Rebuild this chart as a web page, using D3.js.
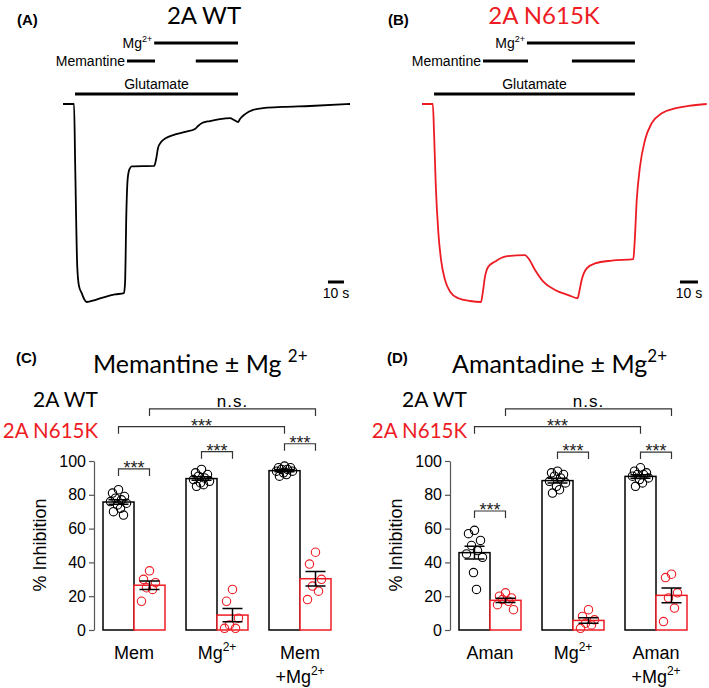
<!DOCTYPE html>
<html>
<head>
<meta charset="utf-8">
<script src="https://cdn.jsdelivr.net/npm/d3@7"></script>
<style>
  body { margin: 0; background: #fff; }
  svg { display: block; }
  text { font-family: "Liberation Sans", Arial, sans-serif; fill: #000; }
  .cal { font-family: Lato, "Open Sans", sans-serif; }
</style>
</head>
<body>
<svg id="fig" width="709" height="688"></svg>
<script>
// ---- traces: time (s) and current as fraction of peak inward current ----
var timeA = [0, 6.9, 7.6, 8.9, 10, 11.7, 13.2, 14.8, 20, 26, 32.5, 38.1, 38.8, 39.6, 40.4, 41.5, 43, 57, 58.1, 59.4, 61.3, 64.4, 68.8, 76.3, 82.5, 84.4, 86.9, 91.9, 98.1, 104.4, 106.9, 109.4, 110.6, 113.8, 118.8, 126.3, 137.5, 154.4, 179.4];
var currA = [0, 0, 0.3, 0.82, 0.92, 0.955, 0.985, 1, 0.99, 0.975, 0.962, 0.955, 0.9, 0.55, 0.38, 0.33, 0.315, 0.313, 0.283, 0.222, 0.192, 0.172, 0.157, 0.141, 0.126, 0.111, 0.096, 0.086, 0.076, 0.071, 0.081, 0.091, 0.076, 0.051, 0.03, 0.02, 0.015, 0.01, 0];
var timeB = [0, 6, 6.7, 7.6, 9.1, 10.6, 12.8, 15.6, 20.2, 26.7, 32.8, 33.7, 35, 36.8, 40.6, 46.1, 57.2, 59.1, 62.8, 67.4, 73.9, 81.3, 86.5, 87.2, 88.7, 91.5, 96.1, 105.4, 117.4, 118, 119.3, 121.1, 123.9, 127.6, 133.2, 140.6, 148, 158.2];
var currB = [0, 0, 0.146, 0.399, 0.652, 0.788, 0.889, 0.948, 0.981, 0.995, 1, 0.956, 0.872, 0.822, 0.796, 0.771, 0.763, 0.779, 0.838, 0.897, 0.939, 0.965, 0.981, 0.956, 0.889, 0.83, 0.805, 0.791, 0.784, 0.72, 0.485, 0.317, 0.182, 0.097, 0.047, 0.022, 0.01, 0];

// drug application periods (s)
var glutA = [7.5, 109.4], mgA = [57, 109.4], memA = [[40, 57.5], [83, 109.4]];
var glutB = [6.7, 118.3], mgB = [58.3, 118.3], memB = [[33.9, 58.9], [83.3, 118.3]];

// ---- % inhibition, individual cells ----
var catsC = ["Mem", "Mg", "MemMg"];
var wtC  = [[83, 81, 79, 78, 77, 76, 75, 74, 72, 70, 68],
            [95, 93, 92, 91, 90, 89, 88, 87, 86, 85],
            [97, 96, 96, 95, 95, 94, 94, 93, 92, 91]];
var mutC = [[35, 30, 28, 25, 24, 17],
            [24, 17, 7, 3, 1, 1],
            [46, 39, 30, 26, 23, 18]];
var catsD = ["Aman", "Mg", "AmanMg"];
var wtD  = [[59, 57, 53, 50, 47, 45, 43, 34, 24],
            [94, 93, 92, 91, 90, 88, 87, 85, 83, 81],
            [96, 94, 93, 92, 92, 91, 90, 89, 87, 85]];
var mutD = [[22, 20, 19, 18, 17, 15, 12],
            [12, 8, 6, 4, 3, 1],
            [33, 31, 22, 19, 13, 5]];
var tickVals = [0, 20, 40, 60, 80, 100];
var labelsC = [[["Mem", ""]], [["Mg", "2+"]], [["Mem", ""], ["+Mg", "2+"]]];
var labelsD = [[["Aman", ""]], [["Mg", "2+"]], [["Aman", ""], ["+Mg", "2+"]]];

// significance: [group, series] -> [group, series], level in % units
var sigC = [
  {a: [0, 0], b: [0, 1], lvl: 95.3, txt: "***"},
  {a: [1, 0], b: [1, 1], lvl: 105.5, txt: "***"},
  {a: [2, 0], b: [2, 1], lvl: 110.2, txt: "***"},
  {a: [0, 0], b: [2, 0], lvl: 120.3, txt: "***"},
  {a: [0, 1], b: [2, 1], lvl: 130.8, txt: "n.s."}
];
var sigD = [
  {a: [0, 0], b: [0, 1], lvl: 70.4, txt: "***"},
  {a: [1, 0], b: [1, 1], lvl: 105.3, txt: "***"},
  {a: [2, 0], b: [2, 1], lvl: 105.3, txt: "***"},
  {a: [0, 0], b: [2, 0], lvl: 120.3, txt: "***"},
  {a: [0, 1], b: [2, 1], lvl: 130.8, txt: "n.s."}
];

var red = "#ed1c24";
var svg = d3.select("#fig");

function supText(sel, base, sup, supSize, rise) {
  sel.append("tspan").text(base);
  if (sup) {
    sel.append("tspan").attr("dy", -rise).style("font-size", supSize + "px").text(sup);
  }
}

function drawTrace(cfg) {
  var x = d3.scaleLinear().domain([0, 10]).range([cfg.x0, cfg.x0 + cfg.pps * 10]);
  var y = d3.scaleLinear().domain([0, 1]).range([104, 302]);
  var g = svg.append("g");

  var line = d3.line()
    .x(function(d) { return x(d[0]); })
    .y(function(d) { return y(d[1]); })
    .curve(d3.curveMonotoneX);

  g.append("path")
    .datum(d3.zip(cfg.t, cfg.i))
    .attr("d", line)
    .attr("fill", "none")
    .attr("stroke", cfg.color)
    .attr("stroke-width", 1.8);

  var sol = [{s: cfg.glut, y: 94}, {s: cfg.mg, y: 43}]
    .concat(cfg.mem.map(function(s) { return {s: s, y: 61}; }));
  g.selectAll("line.sol").data(sol).enter().append("line")
    .attr("x1", function(d) { return x(d.s[0]); })
    .attr("x2", function(d) { return x(d.s[1]); })
    .attr("y1", function(d) { return d.y; })
    .attr("y2", function(d) { return d.y; })
    .attr("stroke", "#000")
    .attr("stroke-width", 3);

  g.append("text")
    .attr("x", x((cfg.glut[0] + cfg.glut[1]) / 2)).attr("y", 89)
    .attr("text-anchor", "middle").style("font-size", "14px")
    .text("Glutamate");
  g.append("text")
    .attr("x", x(cfg.mem[0][0]) - 2).attr("y", 66)
    .attr("text-anchor", "end").style("font-size", "14px")
    .text("Memantine");
  var mg = g.append("text")
    .attr("x", x(cfg.mg[0]) - 2).attr("y", 48)
    .attr("text-anchor", "end").style("font-size", "14px");
  supText(mg, "Mg", "2+", 9, 6);

  // 10 s scale bar
  g.append("line")
    .attr("x1", x(cfg.sb)).attr("x2", x(cfg.sb + 10))
    .attr("y1", 282).attr("y2", 282)
    .attr("stroke", "#000").attr("stroke-width", 3);
  g.append("text")
    .attr("x", x(cfg.sb + 5)).attr("y", 298)
    .attr("text-anchor", "middle").style("font-size", "14px")
    .text("10 s");

  g.append("text").attr("x", cfg.lx).attr("y", 25)
    .style("font-size", "15px").style("font-weight", "bold").text(cfg.letter);
  g.append("text").attr("class", "cal")
    .attr("x", cfg.tx).attr("y", 24).attr("text-anchor", "middle")
    .style("font-size", "24px").style("fill", cfg.color)
    .text(cfg.title);
}

drawTrace({t: timeA, i: currA, color: "#000", x0: 63, pps: 1.6, sb: 165.6,
  glut: glutA, mg: mgA, mem: memA, letter: "(A)", lx: 17, title: "2A WT", tx: 204});
drawTrace({t: timeB, i: currB, color: red, x0: 422, pps: 1.8, sb: 143.3,
  glut: glutB, mg: mgB, mem: memB, letter: "(B)", lx: 388, title: "2A N615K", tx: 544});

function drawBars(cfg) {
  var g = svg.append("g");
  var y = d3.scaleLinear().domain([0, 100]).range([630, 461]);
  var gx = d3.scalePoint().domain(cfg.cats).range(cfg.centers);
  var sub = d3.scaleBand().domain([0, 1]).range([-31, 31]);
  var bw = sub.bandwidth();
  var series = [cfg.wt, cfg.mut];
  var colors = ["#000", red];

  var rows = [];
  cfg.cats.forEach(function(c, ci) {
    series.forEach(function(s, si) {
      var v = s[ci];
      rows.push({c: c, ci: ci, si: si, vals: v,
        mean: d3.mean(v), sem: d3.deviation(v) / Math.sqrt(v.length)});
    });
  });
  function cx(ci, si) { return gx(cfg.cats[ci]) + sub(si) + bw / 2; }

  // axis
  var ax = g.append("g")
    .attr("transform", "translate(" + cfg.axisX + ",0)")
    .call(d3.axisLeft(y).tickValues(tickVals).tickSize(5).tickSizeOuter(0).tickPadding(3));
  ax.selectAll("path,line").attr("stroke", "#555").attr("stroke-width", 1.2);
  ax.selectAll("text").style("font-size", "16px").style("font-family", "Liberation Sans, Arial, sans-serif").attr("fill", "#000");

  g.append("text")
    .attr("transform", "translate(" + cfg.ylx + ",545) rotate(-90)")
    .attr("text-anchor", "middle").attr("dy", "0.35em")
    .style("font-size", "18px").text("% Inhibition");

  // bars
  g.selectAll("rect.bar").data(rows).enter().append("rect")
    .attr("x", function(d) { return gx(d.c) + sub(d.si); })
    .attr("width", bw)
    .attr("y", function(d) { return y(d.mean); })
    .attr("height", function(d) { return y(0) - y(d.mean); })
    .attr("fill", "#fff")
    .attr("stroke", function(d) { return colors[d.si]; })
    .attr("stroke-width", 1.5);

  // individual cells
  var jit = [0, -6, 6, -3, 3, -8, 8, -1, 2, -5, 5];
  rows.forEach(function(d) {
    g.selectAll(null).data(d.vals).enter().append("circle")
      .attr("cx", function(v, k) { return cx(d.ci, d.si) + jit[k % jit.length]; })
      .attr("cy", function(v) { return y(v); })
      .attr("r", 4.2)
      .attr("fill", "none")
      .attr("stroke", colors[d.si])
      .attr("stroke-width", 1.1);
  });

  // mean +/- SEM
  rows.forEach(function(d) {
    var x0 = cx(d.ci, d.si);
    var p = "M" + (x0 - 10) + "," + y(d.mean + d.sem) + "H" + (x0 + 10) +
            "M" + (x0 - 10) + "," + y(d.mean - d.sem) + "H" + (x0 + 10) +
            "M" + x0 + "," + y(d.mean + d.sem) + "V" + y(d.mean - d.sem);
    g.append("path").attr("d", p).attr("stroke", "#000").attr("stroke-width", 1.5).attr("fill", "none");
  });

  // significance brackets
  cfg.sig.forEach(function(s) {
    var x1 = cx(s.a[0], s.a[1]), x2 = cx(s.b[0], s.b[1]), yy = y(s.lvl);
    g.append("path")
      .attr("d", "M" + x1 + "," + (yy + 7) + "V" + yy + "H" + x2 + "V" + (yy + 7))
      .attr("fill", "none").attr("stroke", "#333").attr("stroke-width", 1.2);
    var t = g.append("text").attr("x", (x1 + x2) / 2).attr("text-anchor", "middle");
    if (s.txt === "n.s.") {
      t.attr("y", yy - 1.5).style("font-size", "17px").style("letter-spacing", "1px").text(s.txt);
    } else {
      t.attr("y", yy + 5).style("font-size", "18px").style("fill", "#222").text(s.txt);
    }
  });

  // category labels
  cfg.labels.forEach(function(lines, ci) {
    lines.forEach(function(ln, li) {
      var t = g.append("text")
        .attr("x", gx(cfg.cats[ci])).attr("y", 659 + li * 24)
        .attr("text-anchor", "middle").style("font-size", "18px");
      supText(t, ln[0], ln[1], 12, 8);
    });
  });

  // legend / titles
  g.append("text").attr("class", "cal").attr("x", cfg.legX).attr("y", 407)
    .attr("text-anchor", "end").style("font-size", "21px").text("2A WT");
  g.append("text").attr("class", "cal").attr("x", cfg.legX).attr("y", 438)
    .attr("text-anchor", "end").style("font-size", "20.5px").style("fill", red).text("2A N615K");

  var tt = g.append("text").attr("class", "cal").attr("x", cfg.titleX).attr("y", 373)
    .style("font-size", "25px");
  supText(tt, cfg.title, "2+", 17, 11);

  g.append("text").attr("x", cfg.lx).attr("y", 363)
    .style("font-size", "15px").style("font-weight", "bold").text(cfg.letter);
}

drawBars({cats: catsC, wt: wtC, mut: mutC, centers: [134, 300], axisX: 94, ylx: 40,
  sig: sigC, labels: labelsC, legX: 98, titleX: 93, title: "Memantine \u00b1 Mg ",
  letter: "(C)", lx: 16});
drawBars({cats: catsD, wt: wtD, mut: mutD, centers: [490, 656], axisX: 450, ylx: 396,
  sig: sigD, labels: labelsD, legX: 467, titleX: 452, title: "Amantadine \u00b1 Mg",
  letter: "(D)", lx: 387});
</script>
</body>
</html>
